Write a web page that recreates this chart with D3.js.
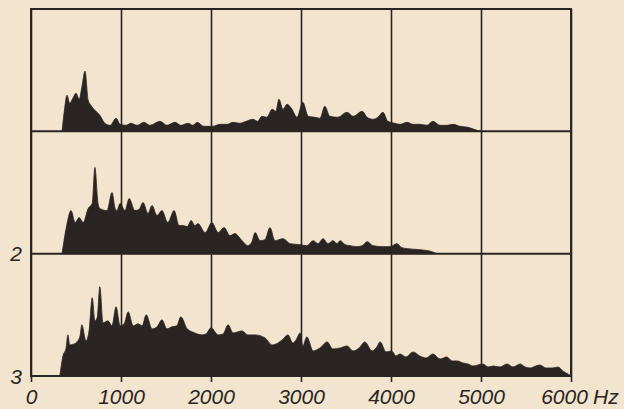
<!DOCTYPE html>
<html>
<head>
<meta charset="utf-8">
<script src="https://cdn.jsdelivr.net/npm/d3@7"></script>
<style>
  html, body { margin: 0; padding: 0; background: #f2e4cd; }
  svg { display: block; }
  .tick-label { font-family: "Liberation Sans", Arial, sans-serif; font-style: italic; font-size: 21px; fill: #2a2522; }
</style>
</head>
<body>
<svg id="chart"></svg>
<script>
// spectrum 1 (top panel): frequency in Hz, level in relative units
const freqs1 = [345, 370, 400, 430, 465, 500, 535, 565, 600, 635, 665, 710, 765, 820, 880, 945, 990,
  1055, 1110, 1180, 1255, 1320, 1435, 1510, 1600, 1665, 1745, 1800, 1845, 1920, 2020, 2100, 2180,
  2245, 2320, 2390, 2465, 2520, 2565, 2620, 2680, 2720, 2755, 2800, 2845, 2900, 2955, 3020, 3080,
  3155, 3210, 3265, 3320, 3410, 3510, 3580, 3680, 3735, 3800, 3855, 3910, 3965, 4045, 4100, 4180,
  4245, 4320, 4400, 4465, 4545, 4620, 4690, 4765, 4855, 4955, 4990]
const levels1 = [0, 20, 36, 28, 33, 38, 32, 44, 60, 31, 26, 21, 16, 8, 6, 13, 7,
  6, 8, 6, 9, 6, 10, 6, 9, 6, 8, 6, 9, 5, 5, 7, 7,
  9, 8, 10, 12, 10, 15, 14, 22, 20, 32, 22, 27, 22, 14, 29, 15,
  14, 13, 25, 15, 14, 19, 15, 20, 14, 12, 14, 19, 10, 8, 7, 9,
  7, 7, 6, 10, 6, 6, 7, 5, 4, 1, 0]

// spectrum 2 (middle panel)
const freqs2 = [345, 390, 445, 490, 535, 580, 635, 680, 710, 745, 765, 845, 900, 935, 955, 990,
  1045, 1090, 1155, 1200, 1245, 1300, 1345, 1400, 1455, 1520, 1590, 1645, 1690, 1735, 1780, 1820,
  1855, 1935, 2010, 2080, 2145, 2210, 2265, 2345, 2410, 2455, 2490, 2545, 2600, 2655, 2710, 2800,
  2880, 2990, 3065, 3135, 3190, 3245, 3300, 3355, 3400, 3435, 3490, 3545, 3620, 3680, 3735, 3800,
  3910, 3990, 4065, 4120, 4180, 4320, 4455, 4510]
const levels2 = [0, 25, 43, 31, 36, 31, 45, 50, 86, 50, 45, 43, 61, 45, 43, 50,
  43, 55, 43, 44, 51, 40, 48, 38, 43, 31, 43, 28, 28, 27, 33, 28,
  30, 21, 31, 21, 26, 18, 20, 13, 8, 12, 21, 13, 14, 26, 13, 15,
  10, 9, 8, 13, 10, 15, 10, 13, 10, 13, 9, 8, 7, 8, 12, 8,
  7, 7, 10, 6, 5, 4, 2, 0]

// spectrum 3 (bottom panel)
const freqs3 = [320, 355, 390, 410, 430, 480, 510, 545, 565, 610, 645, 680, 710, 735, 765, 800, 855,
  900, 945, 990, 1035, 1080, 1135, 1190, 1235, 1280, 1345, 1400, 1455, 1510, 1565, 1620, 1665,
  1735, 1820, 1900, 1945, 2000, 2080, 2135, 2190, 2245, 2345, 2410, 2490, 2600, 2680, 2745, 2790,
  2855, 2910, 2945, 2990, 3020, 3065, 3135, 3210, 3290, 3355, 3435, 3510, 3580, 3645, 3710, 3790,
  3835, 3880, 3945, 4000, 4020, 4055, 4100, 4165, 4245, 4320, 4390, 4465, 4545, 4620, 4680, 4735,
  4800, 4855, 4910, 5020, 5080, 5135, 5210, 5290, 5355, 5435, 5490, 5545, 5610, 5655, 5720, 5800,
  5855, 5910, 5965, 6000]
const levels3 = [0, 20, 28, 41, 31, 32, 34, 40, 51, 35, 45, 78, 55, 58, 89, 53, 55,
  50, 69, 50, 52, 64, 50, 52, 50, 61, 47, 49, 56, 47, 49, 50, 59,
  47, 43, 41, 42, 48, 41, 42, 51, 43, 45, 41, 41, 38, 31, 33, 36,
  41, 33, 36, 43, 30, 39, 25, 28, 34, 27, 28, 30, 25, 28, 34, 25,
  28, 34, 24, 25, 24, 20, 22, 19, 24, 20, 18, 22, 17, 19, 15, 15,
  13, 12, 10, 12, 9, 10, 9, 12, 9, 12, 9, 8, 10, 11, 8, 8,
  9, 5, 2, 0]

const panelNames = ['1', '2', '3']
const panelLabels = ['', '2', '3']
const freqTicks = [0, 1000, 2000, 3000, 4000, 5000, 6000]

class SpectrumChart {
    constructor(_config, _data) {
        this.config = {
            parentElement: _config.parentElement,
            containerWidth: _config.containerWidth || 624,
            containerHeight: _config.containerHeight || 409,
            margin: {top: 9, right: 53, bottom: 33, left: 31},
            maxLevel: 122,
        }
        this.data = _data
        this.initVis()
    }

    initVis() {
        let vis = this

        vis.width = vis.config.containerWidth - vis.config.margin.left - vis.config.margin.right
        vis.height = vis.config.containerHeight - vis.config.margin.top - vis.config.margin.bottom

        vis.xScale = d3.scaleLinear()
            .domain([0, 6000])
            .range([0, vis.width])

        // one horizontal band per spectrum
        vis.panelScale = d3.scaleBand()
            .domain(panelNames)
            .range([0, vis.height])

        vis.svg = d3.select(vis.config.parentElement)
            .attr('width', vis.config.containerWidth)
            .attr('height', vis.config.containerHeight)

        vis.svg.append('rect')
            .attr('width', vis.config.containerWidth)
            .attr('height', vis.config.containerHeight)
            .attr('fill', '#f2e4cd')

        vis.chart = vis.svg.append('g')
            .attr('transform', `translate(${vis.config.margin.left},${vis.config.margin.top})`)

        vis.updateVis()
    }

    updateVis() {
        let vis = this
        const ink = '#2a2522'

        // Filled spectra
        vis.data.forEach((d, i) => {
            const top = vis.panelScale(panelNames[i])
            const bottom = top + vis.panelScale.bandwidth()
            const yScale = d3.scaleLinear()
                .domain([0, vis.config.maxLevel])
                .range([bottom, top])

            const area = d3.area()
                .x(p => vis.xScale(p.f))
                .y0(bottom)
                .y1(p => yScale(p.v))
                .curve(d3.curveMonotoneX)

            vis.chart.append('path')
                .datum(d.freqs.map((f, k) => ({f: f, v: d.levels[k]})))
                .attr('d', area)
                .attr('fill', ink)
                .attr('stroke', ink)
                .attr('stroke-width', 0.8)
        })

        // Vertical grid lines + bottom tick labels
        const xAxis = d3.axisBottom(vis.xScale)
            .tickValues(freqTicks)
            .tickSize(-(vis.height + 6))
            .tickPadding(7)
            .tickFormat(d => d)

        const axisG = vis.chart.append('g')
            .attr('transform', `translate(0,${vis.height + 6})`)
            .call(xAxis)

        axisG.select('.domain').remove()
        axisG.selectAll('.tick line')
            .attr('stroke', ink)
            .attr('stroke-width', 1.6)
        axisG.selectAll('.tick text')
            .attr('class', 'tick-label')
            .attr('fill', null)
            .attr('font-family', null)
            .attr('font-size', null)
            .attr('dx', d => d === 6000 ? -7 : 0)

        axisG.append('text')
            .attr('class', 'tick-label')
            .attr('text-anchor', 'start')
            .attr('x', vis.xScale(6000) + 22)
            .attr('y', 7)
            .attr('dy', '0.71em')
            .text('Hz')

        // Panel baselines
        vis.chart.append('g')
            .selectAll('line')
            .data(panelNames)
            .join('line')
            .attr('x1', 0)
            .attr('x2', vis.width)
            .attr('y1', n => vis.panelScale(n) + vis.panelScale.bandwidth())
            .attr('y2', n => vis.panelScale(n) + vis.panelScale.bandwidth())
            .attr('stroke', ink)
            .attr('stroke-width', 2)

        // Outer frame
        vis.chart.append('rect')
            .attr('width', vis.width)
            .attr('height', vis.height)
            .attr('fill', 'none')
            .attr('stroke', ink)
            .attr('stroke-width', 2)

        // Panel numbers on the left
        vis.chart.append('g')
            .selectAll('text')
            .data(panelNames)
            .join('text')
            .attr('class', 'tick-label')
            .attr('x', -9)
            .attr('y', n => vis.panelScale(n) + vis.panelScale.bandwidth())
            .attr('dy', '0.36em')
            .attr('text-anchor', 'end')
            .text((n, i) => panelLabels[i])
    }
}

new SpectrumChart({parentElement: '#chart'}, [
    {freqs: freqs1, levels: levels1},
    {freqs: freqs2, levels: levels2},
    {freqs: freqs3, levels: levels3},
])
</script>
</body>
</html>
